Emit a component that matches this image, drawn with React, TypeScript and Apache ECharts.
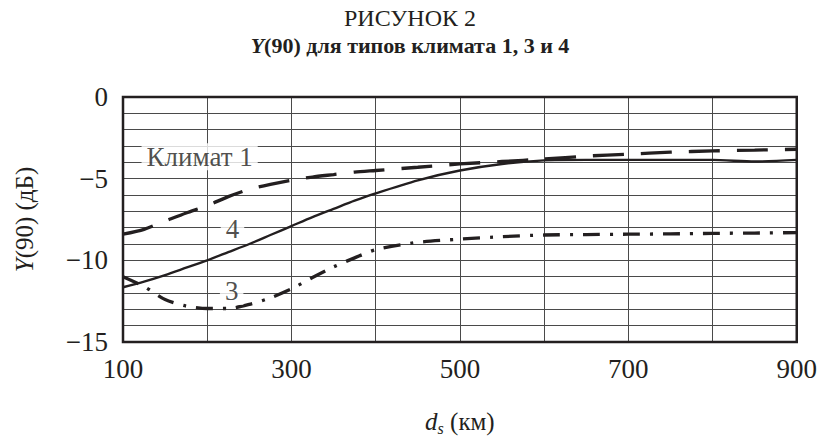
import React, { useEffect, useRef } from "react";
import * as echarts from "echarts";

const distanceKm = [100, 125, 150, 175, 200, 225, 250, 275, 300, 325, 350, 375, 400, 450, 500, 550, 600, 650, 700, 750, 800, 850, 900];
const climate1 = [-11.65, -11.3, -10.9, -10.45, -10.0, -9.5, -9.0, -8.45, -7.9, -7.35, -6.85, -6.35, -5.9, -5.1, -4.5, -4.1, -3.88, -3.85, -3.85, -3.85, -3.85, -3.95, -3.85];
const climate4 = [-8.4, -8.1, -7.6, -7.1, -6.65, -6.1, -5.65, -5.35, -5.1, -4.9, -4.75, -4.6, -4.5, -4.3, -4.1, -3.95, -3.8, -3.62, -3.5, -3.38, -3.3, -3.25, -3.2];
const climate3 = [-11.0, -11.6, -12.4, -12.8, -12.95, -12.95, -12.7, -12.3, -11.75, -11.05, -10.4, -9.85, -9.35, -8.9, -8.7, -8.55, -8.45, -8.42, -8.4, -8.38, -8.35, -8.33, -8.3];

const curveLabels = ["Климат 1", "4", "3"];
const curveLabelX = [191, 230, 229];
const curveLabelY = [-3.66, -8.1, -11.9];

const xTickLabels = [100, 300, 500, 700, 900];
const yTickLabels = [0, -5, -10, -15];

const FONT = "'Liberation Serif', 'Times New Roman', serif";
const INK = "#231f20";

const pair = (ys: number[]) => distanceKm.map((x, i) => [x, ys[i]]);

export default function App() {
  const ref = useRef<HTMLDivElement>(null);
  useEffect(() => {
    if (!ref.current) return;
    const chart = echarts.init(ref.current, undefined, { renderer: "svg" });
    const lineBase = { type: "line", showSymbol: false, smooth: 0.25, z: 3, silent: true };
    chart.setOption({
      animation: false,
      backgroundColor: "#fff",
      title: [
        {
          text: "РИСУНОК 2",
          left: "center",
          top: 1,
          textStyle: { fontFamily: FONT, fontSize: 24, fontWeight: "normal", color: INK },
        },
        {
          text: "{i|Y}(90) для типов климата 1, 3 и 4",
          left: "center",
          top: 29,
          textStyle: {
            fontFamily: FONT,
            fontSize: 22,
            fontWeight: "bold",
            color: INK,
            rich: { i: { fontFamily: FONT, fontSize: 22, fontWeight: "bold", fontStyle: "italic", color: INK } },
          },
        },
      ],
      grid: { left: 123, right: 22, top: 97, bottom: 94, show: true, borderColor: INK, borderWidth: 2.5, z: 4 },
      xAxis: {
        type: "value",
        min: 100,
        max: 900,
        interval: 100,
        name: "{i|d}{s|s} (км)",
        nameLocation: "middle",
        nameGap: 65,
        nameTextStyle: {
          fontFamily: FONT,
          fontSize: 25,
          color: INK,
          rich: {
            i: { fontFamily: FONT, fontSize: 25, fontStyle: "italic", color: INK },
            s: { fontFamily: FONT, fontSize: 16, fontStyle: "italic", color: INK, verticalAlign: "bottom", padding: [13, 0, 0, 0] },
          },
        },
        axisLine: { show: false },
        axisTick: { show: false },
        axisLabel: {
          margin: 13,
          fontFamily: FONT,
          fontSize: 27,
          color: INK,
          formatter: (v: number) => (xTickLabels.includes(v) ? String(v) : ""),
        },
        splitLine: { show: true, lineStyle: { color: "#4a4a4a", width: 1 } },
      },
      yAxis: {
        type: "value",
        min: -15,
        max: 0,
        interval: 1,
        name: "{i|Y}(90) (дБ)",
        nameLocation: "middle",
        nameRotate: 90,
        nameGap: 86,
        nameTextStyle: {
          fontFamily: FONT,
          fontSize: 25,
          color: INK,
          rich: { i: { fontFamily: FONT, fontSize: 25, fontStyle: "italic", color: INK } },
        },
        axisLine: { show: false },
        axisTick: { show: false },
        axisLabel: {
          margin: 15,
          fontFamily: FONT,
          fontSize: 27,
          color: INK,
          formatter: (v: number) =>
            yTickLabels.includes(v) ? (v < 0 ? "\u2212" + Math.abs(v) : String(v)) : "",
        },
        splitLine: { show: true, lineStyle: { color: "#4a4a4a", width: 1 } },
      },
      series: [
        {
          ...lineBase,
          name: "Климат 1",
          data: pair(climate1),
          lineStyle: { color: INK, width: 2.4, type: "solid" },
        },
        {
          ...lineBase,
          name: "4",
          data: pair(climate4),
          lineStyle: { color: INK, width: 3.3, type: [31, 17] },
        },
        {
          ...lineBase,
          name: "3",
          data: pair(climate3),
          lineStyle: { color: INK, width: 3.3, type: [17, 10, 3, 10] },
        },
        {
          type: "scatter",
          name: "labels",
          symbolSize: 0,
          z: 5,
          silent: true,
          data: curveLabels.map((t, i) => [curveLabelX[i], curveLabelY[i], t]),
          label: {
            show: true,
            position: "inside",
            formatter: (p: any) => p.value[2],
            fontFamily: FONT,
            fontSize: 27,
            color: INK,
            backgroundColor: "#fff",
            padding: [0, 5],
          },
        },
      ],
    });
    return () => chart.dispose();
  }, []);
  return (
    <div
      ref={ref}
      style={{ position: "fixed", left: 0, top: 0, width: 820, height: 441 }}
    />
  );
}
